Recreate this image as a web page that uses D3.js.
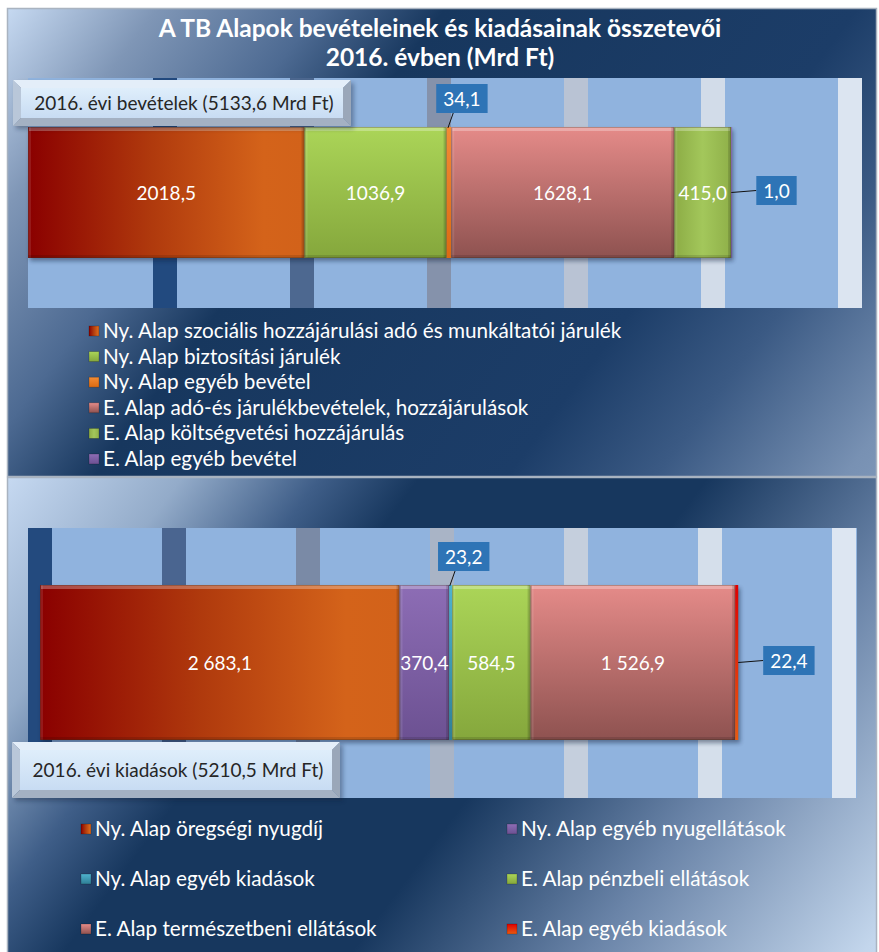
<!DOCTYPE html>
<html>
<head>
<meta charset="utf-8">
<script src="https://cdn.jsdelivr.net/npm/d3@7"></script>
<style>
  body { margin: 0; background: #fff; }
  svg { display: block; font-family: Lato, "Open Sans", sans-serif; }
</style>
</head>
<body>
<svg id="chart" width="879" height="952"></svg>
<script>
// ---- data ----
const titleLines = ["A TB Alapok bevételeinek és kiadásainak összetevői", "2016. évben (Mrd Ft)"];

const incomeCategories = [
  "Ny. Alap szociális hozzájárulási adó és munkáltatói járulék",
  "Ny. Alap biztosítási járulék",
  "Ny. Alap egyéb bevétel",
  "E. Alap adó-és járulékbevételek, hozzájárulások",
  "E. Alap költségvetési hozzájárulás",
  "E. Alap egyéb bevétel"
];
const incomeValues = [2018.5, 1036.9, 34.1, 1628.1, 415.0, 1.0];
const incomeTotalLabel = "2016. évi bevételek (5133,6 Mrd Ft)";

const expenseCategories = [
  "Ny. Alap öregségi nyugdíj",
  "Ny. Alap egyéb nyugellátások",
  "Ny. Alap egyéb kiadások",
  "E. Alap pénzbeli ellátások",
  "E. Alap természetbeni ellátások",
  "E. Alap egyéb kiadások"
];
const expenseValues = [2683.1, 370.4, 23.2, 584.5, 1526.9, 22.4];
const expenseTotalLabel = "2016. évi kiadások (5210,5 Mrd Ft)";

const gridValues = [0, 1000, 2000, 3000, 4000, 5000, 6000];

// ---- styles ----
const fills = {
  redOrange: ["h", [[0, "#8a0000"], [0.45, "#b03a0d"], [0.85, "#d4631a"], [1, "#d2621a"]]],
  green:     ["v", [[0, "#abd558"], [1, "#85a73c"]]],
  greenH:    ["h", [[0, "#8cac45"], [0.5, "#a3c75b"], [1, "#8fb049"]]],
  orange:    ["v", [[0, "#f28c35"], [1, "#dc6a12"]]],
  pink:      ["v", [[0, "#e58b89"], [1, "#8e5250"]]],
  purple:    ["v", [[0, "#8d6db5"], [1, "#6c5192"]]],
  teal:      ["v", [[0, "#4fb3cf"], [1, "#2f7f96"]]],
  red:       ["v", [[0, "#e00000"], [1, "#e85a10"]]]
};
const incomeFills = ["redOrange", "green", "orange", "pink", "greenH", "purple"];
const expenseFills = ["redOrange", "purple", "teal", "green", "pink", "red"];

const svg = d3.select("#chart");
const defs = svg.append("defs");

Object.entries(fills).forEach(([id, [dir, stops]]) => {
  const g = defs.append("linearGradient").attr("id", id)
    .attr("x1", 0).attr("y1", 0)
    .attr("x2", dir === "h" ? 1 : 0).attr("y2", dir === "h" ? 0 : 1);
  g.selectAll("stop").data(stops).join("stop")
    .attr("offset", d => d[0]).attr("stop-color", d => d[1]);
});

function bgGradient(id, x, y, stops) {
  const g = defs.append("linearGradient").attr("id", id)
    .attr("gradientUnits", "userSpaceOnUse")
    .attr("x1", x).attr("y1", y).attr("x2", x + 800).attr("y2", y + 600);
  g.selectAll("stop").data(stops).join("stop")
    .attr("offset", d => d[0]).attr("stop-color", d => d[1]);
}
bgGradient("bgTop", 8, 8, [[0, "#c6d9f1"], [0.12, "#7f96b6"], [0.25, "#4d6a92"], [0.35, "#17375e"],
  [0.68, "#1c3d68"], [0.8, "#3b5a84"], [0.95, "#7891b3"], [1, "#8099ba"]]);
bgGradient("bgBottom", 8, 477, [[0, "#c6d9f1"], [0.14, "#93abc9"], [0.25, "#3f5e88"], [0.33, "#17375e"],
  [0.56, "#17375e"], [0.75, "#6a84a8"], [0.97, "#c3d6ec"], [1, "#c6d9f1"]]);

defs.append("linearGradient").attr("id", "boxFace")
  .attr("x1", 0).attr("y1", 0).attr("x2", 0).attr("y2", 1)
  .selectAll("stop").data([[0, "#dfeefb"], [1, "#c8dcf3"]]).join("stop")
  .attr("offset", d => d[0]).attr("stop-color", d => d[1]);

const shadow = defs.append("filter").attr("id", "shadow")
  .attr("x", -0.1).attr("y", -0.1).attr("width", 1.2).attr("height", 1.3);
shadow.append("feGaussianBlur").attr("stdDeviation", 2);

const fmtLocale = d3.formatLocale({ decimal: ",", thousands: " ", grouping: [3], currency: ["", ""] });

const panels = [
  {
    y0: 8, y1: 476, bg: "bgTop",
    plot: { x0: 28, x1: 862, y0: 78, y1: 308 },
    range: [28, 850], bar: [127, 258],
    values: incomeValues, categories: incomeCategories, fills: incomeFills,
    fmt: fmtLocale.format(".1f"),
    bandColors: [null, "#224a7f", "#4d6890", "#8592ab", "#b9c3d4", "#d2dce9", "#dce5f1"],
    callouts: { 2: "above", 5: "right" },
    box: { x: 13, y: 80, w: 338, h: 46, text: incomeTotalLabel },
    legend: { x: 89, y: 331, step: 25.6, cols: 1 }
  },
  {
    y0: 477, y1: 960, bg: "bgBottom",
    plot: { x0: 28, x1: 857, y0: 528, y1: 798 },
    range: [40, 844], bar: [585, 740],
    values: expenseValues, categories: expenseCategories, fills: expenseFills,
    fmt: fmtLocale.format(",.1f"),
    bandColors: ["#234a7e", "#4a6590", "#7a8aa6", "#a9b4c6", "#c5cfdd", "#d5dfeb", "#dde6f2"],
    callouts: { 2: "above", 5: "right" },
    box: { x: 12, y: 742, w: 328, h: 56, text: expenseTotalLabel },
    legend: { x: 81, y: 829, step: 50, cols: 2, colStep: 426 }
  }
];

const labelSize = 19;

panels.forEach((p, pi) => {
  const g = svg.append("g");
  g.append("rect").attr("x", 7.5).attr("y", p.y0 + 0.5).attr("width", 869).attr("height", p.y1 - p.y0)
    .attr("fill", `url(#${p.bg})`).attr("stroke", "#a9b3c0").attr("stroke-width", 1.5);

  const x = d3.scaleLinear().domain([0, 6000]).range(p.range);
  const clipId = "clip" + pi;
  defs.append("clipPath").attr("id", clipId).append("rect")
    .attr("x", p.plot.x0).attr("y", p.plot.y0)
    .attr("width", p.plot.x1 - p.plot.x0).attr("height", p.plot.y1 - p.plot.y0);

  const plot = g.append("g").attr("clip-path", `url(#${clipId})`);
  plot.append("rect").attr("x", p.plot.x0).attr("y", p.plot.y0)
    .attr("width", p.plot.x1 - p.plot.x0).attr("height", p.plot.y1 - p.plot.y0)
    .attr("fill", "#90b3de");
  plot.selectAll("rect.band").data(gridValues.filter((v, i) => p.bandColors[i])).join("rect")
    .attr("class", "band")
    .attr("x", d => x(d) - 12).attr("y", p.plot.y0)
    .attr("width", 24).attr("height", p.plot.y1 - p.plot.y0)
    .attr("fill", d => p.bandColors[gridValues.indexOf(d)]);

  // stacked segments
  const starts = d3.cumsum([0].concat(p.values.slice(0, -1)));
  const segs = p.values.map((v, i) => ({ v, i, x0: x(starts[i]), x1: x(starts[i] + v) }));
  const [by0, by1] = p.bar;
  const barEnd = segs[segs.length - 1].x1;

  g.append("rect").attr("x", segs[0].x0 + 2).attr("y", by0 + 3)
    .attr("width", barEnd - segs[0].x0).attr("height", by1 - by0)
    .attr("fill", "#0b1f38").attr("opacity", 0.45).attr("filter", "url(#shadow)");

  const sg = g.selectAll("g.seg").data(segs).join("g").attr("class", "seg");
  sg.append("rect")
    .attr("x", d => d.x0).attr("y", by0)
    .attr("width", d => Math.max(d.x1 - d.x0, 1)).attr("height", by1 - by0)
    .attr("fill", d => `url(#${p.fills[d.i]})`);
  // bevel highlights
  const wide = sg.filter(d => d.x1 - d.x0 > 6);
  wide.append("rect")
    .attr("x", d => d.x0 + 1).attr("y", by0)
    .attr("width", d => d.x1 - d.x0 - 2).attr("height", 4)
    .attr("fill", "#fff").attr("opacity", 0.28);
  wide.append("rect")
    .attr("x", d => d.x0).attr("y", by0)
    .attr("width", 3).attr("height", by1 - by0)
    .attr("fill", "#fff").attr("opacity", 0.1);
  wide.append("rect")
    .attr("x", d => d.x1 - 3).attr("y", by0)
    .attr("width", 3).attr("height", by1 - by0)
    .attr("fill", "#000").attr("opacity", 0.15);
  wide.append("rect")
    .attr("x", d => d.x0).attr("y", by1 - 3)
    .attr("width", d => d.x1 - d.x0).attr("height", 3)
    .attr("fill", "#000").attr("opacity", 0.12);
  wide.append("rect")
    .attr("x", d => d.x0 + 0.5).attr("y", by0 + 0.5)
    .attr("width", d => d.x1 - d.x0 - 1).attr("height", by1 - by0 - 1)
    .attr("fill", "none").attr("stroke", "#3a2a1a").attr("stroke-opacity", 0.3);

  // inside labels
  sg.filter(d => !(d.i in p.callouts)).append("text")
    .attr("x", d => (d.x0 + d.x1) / 2).attr("y", (by0 + by1) / 2 + 7)
    .attr("text-anchor", "middle").attr("fill", "#fff").attr("font-size", labelSize)
    .text(d => p.fmt(d.v));

  // callouts for thin segments
  segs.filter(d => d.i in p.callouts).forEach(d => {
    const label = p.fmt(d.v);
    const cg = g.append("g");
    const t = cg.append("text").attr("fill", "#fff").attr("font-size", labelSize).text(label);
    const tw = t.node().getComputedTextLength();
    const bw = tw + 14, bh = 29;
    let bx, by, lx1, ly1, lx2, ly2;
    if (p.callouts[d.i] === "above") {
      const cx = (d.x0 + d.x1) / 2;
      bx = cx + 13 - bw / 2; by = by0 - 14 - bh;
      lx1 = cx - 1; ly1 = by0 + 1; lx2 = bx + 17; ly2 = by + bh;
    } else {
      const cy = (by0 + by1) / 2;
      bx = d.x1 + 25; by = cy - bh / 2 - 2;
      lx1 = d.x1; ly1 = cy; lx2 = bx; ly2 = cy - 2;
    }
    cg.insert("line", "text").attr("x1", lx1).attr("y1", ly1).attr("x2", lx2).attr("y2", ly2)
      .attr("stroke", "#111").attr("stroke-width", 1);
    cg.insert("rect", "text").attr("x", bx).attr("y", by).attr("width", bw).attr("height", bh)
      .attr("fill", "#2e74b6");
    t.attr("x", bx + bw / 2).attr("y", by + bh / 2 + 7).attr("text-anchor", "middle");
  });

  // total label box with bevel
  const b = p.box, e = 8;
  const bg = g.append("g");
  bg.append("rect").attr("x", b.x + 3).attr("y", b.y + 3).attr("width", b.w).attr("height", b.h)
    .attr("fill", "#0b1f38").attr("opacity", 0.35).attr("filter", "url(#shadow)");
  const faces = [
    [[b.x, b.y], [b.x + b.w, b.y], [b.x + b.w - e, b.y + e], [b.x + e, b.y + e], "#e4eef9"],
    [[b.x, b.y], [b.x + e, b.y + e], [b.x + e, b.y + b.h - e], [b.x, b.y + b.h], "#b9c7d9"],
    [[b.x + b.w, b.y], [b.x + b.w, b.y + b.h], [b.x + b.w - e, b.y + b.h - e], [b.x + b.w - e, b.y + e], "#9aa7b9"],
    [[b.x, b.y + b.h], [b.x + b.w, b.y + b.h], [b.x + b.w - e, b.y + b.h - e], [b.x + e, b.y + b.h - e], "#a4b1c3"]
  ];
  bg.selectAll("polygon").data(faces).join("polygon")
    .attr("points", d => d.slice(0, 4).map(pt => pt.join(",")).join(" "))
    .attr("fill", d => d[4]);
  bg.append("rect").attr("x", b.x + e).attr("y", b.y + e).attr("width", b.w - 2 * e).attr("height", b.h - 2 * e)
    .attr("fill", "url(#boxFace)");
  bg.append("text").attr("x", b.x + b.w / 2 + 2).attr("y", b.y + b.h / 2 + 7)
    .attr("text-anchor", "middle").attr("font-size", 19).attr("fill", "#262626").text(b.text);

  // legend
  const L = p.legend;
  const lg = g.selectAll("g.leg").data(p.categories).join("g").attr("class", "leg")
    .attr("transform", (d, i) => {
      const col = L.cols === 1 ? 0 : i % 2;
      const row = L.cols === 1 ? i : Math.floor(i / 2);
      return `translate(${L.x + col * (L.colStep || 0)},${L.y + row * L.step})`;
    });
  lg.append("rect").attr("x", 0).attr("y", -5).attr("width", 10).attr("height", 10)
    .attr("fill", (d, i) => `url(#${p.fills[i]})`)
    .attr("stroke", "#000").attr("stroke-opacity", 0.25).attr("stroke-width", 0.8);
  lg.append("text").attr("x", 14).attr("y", 7).attr("font-size", 20.7).attr("fill", "#fff").text(d => d);
});

// title
svg.append("g").selectAll("text").data(titleLines).join("text")
  .attr("x", 440).attr("y", (d, i) => 37 + i * 29)
  .attr("text-anchor", "middle").attr("font-size", 24.5).attr("font-weight", "bold")
  .attr("fill", "#fff").text(d => d);
</script>
</body>
</html>
